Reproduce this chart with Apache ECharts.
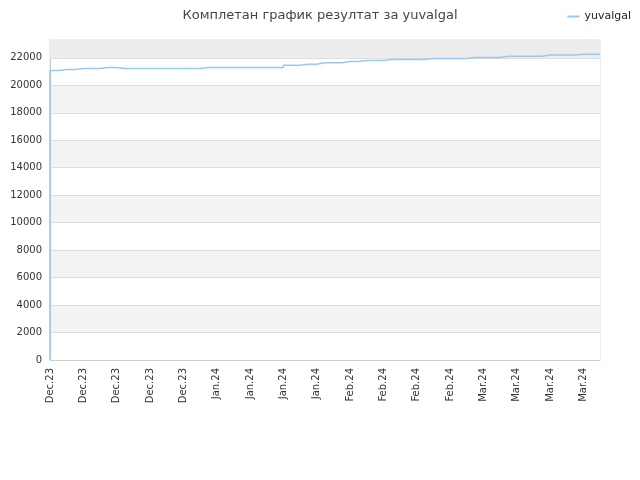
<!DOCTYPE html>
<html><head><meta charset="utf-8">
<script src="https://cdn.jsdelivr.net/npm/echarts@6/dist/echarts.min.js"></script>
<style>html,body{margin:0;padding:0;background:#fff}#c{width:640px;height:480px}</style>
</head><body><div id="c"></div>
<script>
const monthLabels = ["Dec.23","Jan.24","Feb.24","Mar.24"];
const monthCounts = [20,16,16,15];
const scores = [0,21080,21150,21150,21225,21225,21225,21300,21300,21225,
21225,21225,21225,21225,21225,21225,21225,21225,21225,21300,
21300,21300,21300,21300,21300,21300,21300,21300,21300,21470,
21470,21540,21540,21640,21640,21650,21730,21730,21800,21800,
21800,21875,21875,21875,21875,21875,21950,21950,21950,21950,
21950,22020,22020,22020,22020,22120,22120,22120,22120,22120,
22200,22200,22200,22200,22270,22270,22270];
const categories = [];
monthLabels.forEach((m,i)=>{for(let k=0;k<monthCounts[i];k++)categories.push(m);});
const chart = echarts.init(document.getElementById('c'));
chart.setOption({
  animation:false,
  title:{text:'Комплетан график резултат за yuvalgal',left:'center',top:4,textStyle:{fontSize:13,fontWeight:'normal',color:'#444',fontFamily:'DejaVu Sans'}},
  legend:{right:4,top:6,itemWidth:12,itemHeight:2,icon:'rect',textStyle:{fontSize:11,color:'#222',fontFamily:'DejaVu Sans'},data:['yuvalgal']},
  grid:{left:50,right:40,top:40,bottom:120,show:true,borderColor:'#ddd',borderWidth:1,backgroundColor:'transparent'},
  xAxis:{type:'category',data:categories,boundaryGap:false,
    axisLine:{lineStyle:{color:'#ccc'}},axisTick:{show:false},
    axisLabel:{interval:3,rotate:90,fontSize:10,color:'#333',fontFamily:'DejaVu Sans'},
    splitLine:{show:false}},
  yAxis:{type:'value',min:0,max:23300,interval:2000,
    axisLine:{show:true,lineStyle:{color:'#ccc'}},axisTick:{show:false},
    axisLabel:{fontSize:10,color:'#333',fontFamily:'DejaVu Sans',showMaxLabel:false,formatter:v=>String(v)},
    splitLine:{lineStyle:{color:'#ddd'}},
    splitArea:{show:true,areaStyle:{color:['#ffffff','#f3f3f3']}}},
  series:[{name:'yuvalgal',type:'line',step:'start',data:scores,symbol:'none',
    lineStyle:{color:'#99c8f5',width:1.5},itemStyle:{color:'#99c8f5'},
    markArea:{silent:true,itemStyle:{color:'#ececec'},data:[[{yAxis:22000},{yAxis:23300}]]}}]
});
</script></body></html>
